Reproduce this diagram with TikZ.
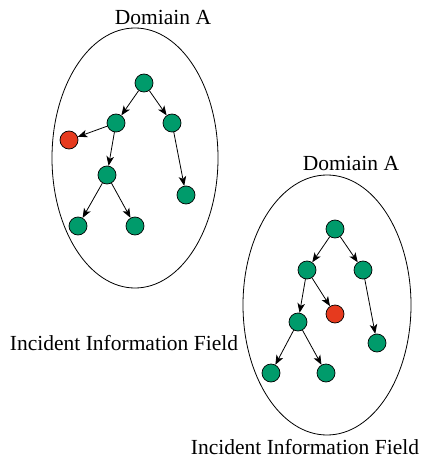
\documentclass[tikz,border=0pt]{standalone}
\usepackage{fontspec}
\setmainfont{Liberation Serif}
\usetikzlibrary{arrows.meta,shapes.geometric}
\definecolor{leafgreen}{HTML}{009B6B}
\definecolor{alertred}{HTML}{E63A1E}
\begin{document}
\begin{tikzpicture}[x=1pt,y=-1pt,
  vtx/.style={circle,draw=black,line width=0.7pt,fill=leafgreen,minimum size=18pt,inner sep=0pt},
  hot/.style={vtx,fill=alertred},
  edge/.style={draw=black,line width=0.8pt,-{Stealth[length=9.5pt,width=7.5pt,inset=2.5pt]}},
  field/.style={draw=black,line width=0.8pt,ellipse,inner sep=0pt},
  lbl/.style={font=\fontsize{21.5}{25}\selectfont,inner sep=0pt}]
\useasboundingbox (0,0) rectangle (420,460);

% first domain
\node[field,minimum width=166pt,minimum height=260pt] (ea) at (135,158) {};
\node[lbl] (ta) at (163,17) {Domiain A};
\node[lbl] (fa) at (124,343) {Incident Information Field};
\node[vtx] (a0) at (144,83) {};
\node[vtx] (a1) at (116,123) {};
\node[vtx] (a2) at (172,123) {};
\node[hot] (ar) at (69,140) {};
\node[vtx] (a3) at (107,175) {};
\node[vtx] (a4) at (186,195) {};
\node[vtx] (a5) at (78,226) {};
\node[vtx] (a6) at (135,226) {};
\draw[edge] (a0) -- (a1);
\draw[edge] (a0) -- (a2);
\draw[edge] (a1) -- (ar);
\draw[edge] (a1) -- (a3);
\draw[edge] (a2) -- (a4);
\draw[edge] (a3) -- (a5);
\draw[edge] (a3) -- (a6);

% second domain
\node[field,minimum width=168pt,minimum height=260pt] (eb) at (327,305) {};
\node[lbl] (tb) at (351,163) {Domiain A};
\node[lbl] (fb) at (305,447) {Incident Information Field};
\node[vtx] (b0) at (335,229) {};
\node[vtx] (b1) at (307,270) {};
\node[vtx] (b2) at (363,270) {};
\node[hot] (br) at (335,314) {};
\node[vtx] (b3) at (298,322) {};
\node[vtx] (b4) at (377,343) {};
\node[vtx] (b5) at (271,373) {};
\node[vtx] (b6) at (326,373) {};
\draw[edge] (b0) -- (b1);
\draw[edge] (b0) -- (b2);
\draw[edge] (b1) -- (br);
\draw[edge] (b1) -- (b3);
\draw[edge] (b2) -- (b4);
\draw[edge] (b3) -- (b5);
\draw[edge] (b3) -- (b6);
\end{tikzpicture}
\end{document}
